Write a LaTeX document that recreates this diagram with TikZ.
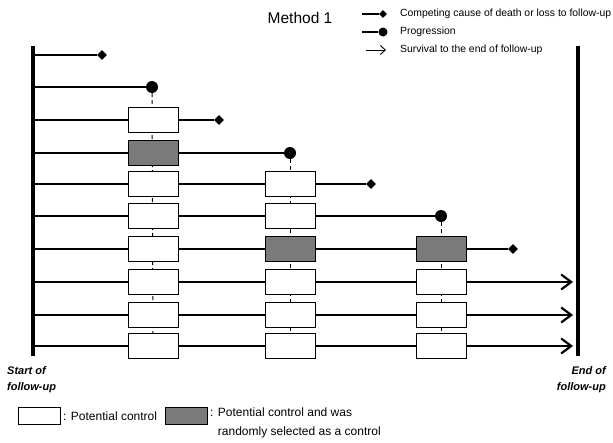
\documentclass[tikz,border=0pt]{standalone}
\usepackage{fontspec}
\setmainfont{Liberation Sans}
\usetikzlibrary{arrows.meta,shapes.geometric}
\definecolor{selgray}{HTML}{7A7A7A}
\begin{document}
\begin{tikzpicture}[x=1pt,y=-1pt,
  rowline/.style={line width=2.2pt},
  bar/.style={line width=4pt},
  pc/.style={draw, line width=1pt, fill=white, minimum width=50pt, minimum height=25pt, inner sep=0pt},
  sel/.style={pc, fill=selgray},
  dia/.style={diamond, fill=black, inner sep=0pt, minimum size=10pt},
  dot/.style={circle, fill=black, inner sep=0pt, minimum size=12pt},
  link/.style={dash pattern=on 4pt off 3pt, line width=1pt},
  surv/.style={rowline, -{Straight Barb[length=10pt,width=15pt,line width=2.2pt]}},
  lab/.style={font=\fontsize{10.4}{12}\selectfont, anchor=west, inner sep=0pt},
  endlab/.style={font=\fontsize{11}{16}\selectfont\bfseries\itshape, align=left, inner sep=0pt},
  leg/.style={font=\fontsize{12}{19}\selectfont, align=left, inner sep=0pt}]
\useasboundingbox (0,0) rectangle (613,442);

% title
\node[font=\fontsize{15.5}{17}\selectfont] (title) at (300,18) {Method 1};

% top legend
\coordinate (l1a) at (362,14);
\node[dia, minimum size=8pt] (l1b) at (383,14) {};
\draw[line width=1.4pt] (l1a) -- (l1b);
\node[lab] (l1t) at (400,14) {Competing cause of death or loss to follow-up};
\coordinate (l2a) at (362,32);
\node[dot, minimum size=9pt] (l2b) at (383,32) {};
\draw[line width=1.4pt] (l2a) -- (l2b);
\node[lab] (l2t) at (400,32) {Progression};
\coordinate (l3a) at (366,50);
\coordinate (l3b) at (386,50);
\draw[line width=0.9pt, -{Straight Barb[length=5pt,width=9pt,line width=0.9pt]}] (l3a) -- (l3b);
\node[lab] (l3t) at (400,50) {Survival to the end of follow-up};

% vertical bars
\coordinate (st) at (33,46);
\coordinate (sb) at (33,356);
\coordinate (et) at (578,46);
\coordinate (eb) at (578,356);
\draw[bar] (st) -- (sb);
\draw[bar] (et) -- (eb);

% row starts
\foreach \i/\y in {1/55,2/87,3/120,4/153,5/184,6/216,7/249,8/282,9/315,10/346}
  \coordinate (s\i) at (33,\y);

% end markers
\node[dia] (d1) at (102,55) {};
\node[dot] (c2) at (152,87) {};
\node[dia] (d3) at (219,120) {};
\node[dot] (c4) at (290,153) {};
\node[dia] (d5) at (371,184) {};
\node[dot] (c6) at (441,216) {};
\node[dia] (d7) at (513,249) {};
\coordinate (e8) at (573,282);
\coordinate (e9) at (573,315);
\coordinate (e10) at (573,346);

% dashed links (behind)
\coordinate (A10) at (153,346);
\coordinate (B10) at (290,346);
\coordinate (C10) at (441,346);
\draw[link] (c2) -- (A10);
\draw[link] (c4) -- (B10);
\draw[link] (c6) -- (C10);

% row lines
\draw[rowline] (s1) -- (d1);
\draw[rowline] (s2) -- (c2);
\draw[rowline] (s3) -- (d3);
\draw[rowline] (s4) -- (c4);
\draw[rowline] (s5) -- (d5);
\draw[rowline] (s6) -- (c6);
\draw[rowline] (s7) -- (d7);
\draw[surv] (s8) -- (e8);
\draw[surv] (s9) -- (e9);
\draw[surv] (s10) -- (e10);

% boxes column A
\foreach \i/\y in {3/120,5/184,6/216,7/249,8/282,9/315,10/346}
  \node[pc] (a\i) at (153,\y) {};
\node[sel] (a4) at (153,153) {};
% column B
\foreach \i/\y in {5/184,6/216,8/282,9/315,10/346}
  \node[pc] (b\i) at (290,\y) {};
\node[sel] (b7) at (290,249) {};
% column C
\foreach \i/\y in {8/282,9/315,10/346}
  \node[pc] (c\i) at (441,\y) {};
\node[sel] (c7) at (441,249) {};

% end labels
\node[endlab, anchor=north west] (startlab) at (7,366) {Start of\\follow-up};
\node[endlab, anchor=north east, align=right] (endlab) at (606,366) {End of\\follow-up};

% bottom legend
\node[pc, minimum width=42pt, minimum height=17pt] (lb1) at (39,416) {};
\node[leg, anchor=west] (lt1) at (63,416) {: Potential control};
\node[sel, minimum width=42pt, minimum height=17pt] (lb2) at (186,416) {};
\node[leg, anchor=north west] (lt2) at (210,408) {: Potential control and was\\\phantom{: }randomly selected as a control};
\end{tikzpicture}
\end{document}
